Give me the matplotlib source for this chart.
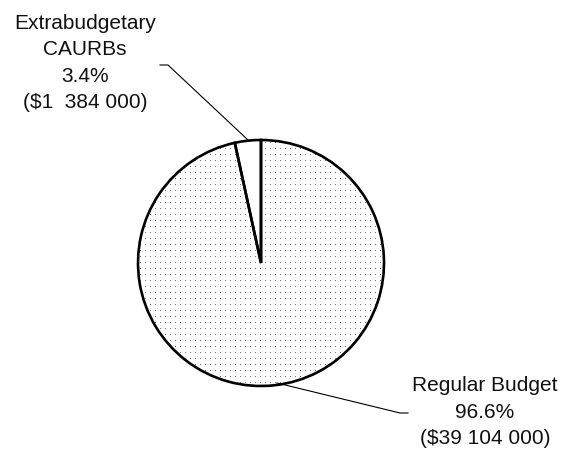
import numpy as np
import matplotlib
matplotlib.use("Agg")
import matplotlib.pyplot as plt
from matplotlib.lines import Line2D

labels = ["Extrabudgetary\nCAURBs", "Regular Budget"]
values = [1384000, 39104000]
pcts = ["3.4%", "96.6%"]
amounts = ["($1  384 000)", "($39 104 000)"]

W, H = 562, 450
fig = plt.figure(figsize=(W/100, H/100), dpi=100)
cx, cy, R = 261, 263, 123
ax = fig.add_axes([(cx-R)/W, (H-cy-R)/H, 2*R/W, 2*R/H])

wedges, _ = ax.pie(values, startangle=90, counterclock=True, radius=1,
                   colors=['white', 'white'],
                   wedgeprops=dict(edgecolor='black', linewidth=1.9))

# dotted texture for Regular Budget
n = 2*R
tex = np.ones((n, n, 4))
tex[2::6, 2::5, :3] = 0.45
im = ax.imshow(tex, extent=(-1, 1, -1, 1), interpolation='nearest', zorder=2)
im.set_clip_path(wedges[1])
for w in wedges:
    w.set_zorder(3); w.set_facecolor('none')

ax.set_xlim(-1, 1); ax.set_ylim(-1, 1); ax.set_aspect('equal'); ax.axis('off')

font = dict(family=['Liberation Sans', 'DejaVu Sans'], fontsize=15, color='#111111')
def px(x, y):
    return x/W, 1 - y/H

fig.text(*px(85, 63), labels[0] + "\n" + pcts[0] + "\n" + amounts[0], ha='center', va='center',
         linespacing=1.47, **font)
fig.text(*px(485, 412), labels[1] + "\n" + pcts[1] + "\n" + amounts[1], ha='center', va='center',
         linespacing=1.47, **font)

def leader(pts):
    xs = [p[0]/W for p in pts]; ys = [1 - p[1]/H for p in pts]
    fig.add_artist(Line2D(xs, ys, color='black', linewidth=0.8, transform=fig.transFigure))

leader([(160, 65), (168, 65), (248, 140)])
leader([(277, 383), (400, 413), (408, 413)])

fig.savefig("out.png", dpi=100, facecolor='white')
